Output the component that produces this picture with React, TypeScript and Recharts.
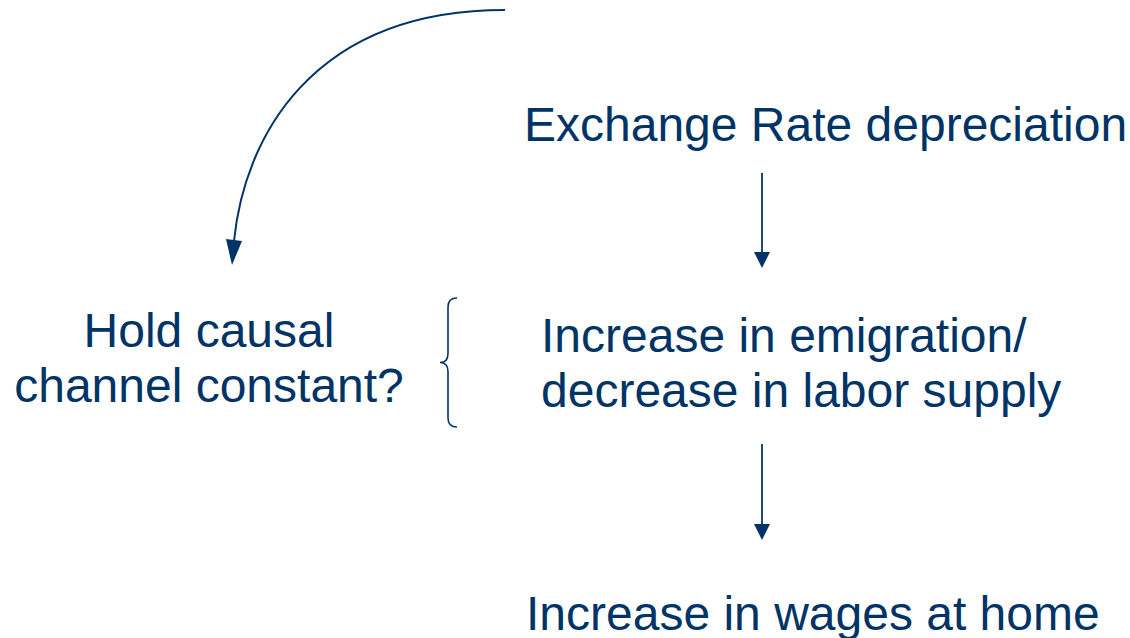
import React from 'react'
import {
  ComposedChart,
  Line,
  Scatter,
  XAxis,
  YAxis,
  ReferenceLine,
} from 'recharts'

const NAVY = '#003466'
const FONT = '"Liberation Sans", Arial, sans-serif'

/** diagram coordinates: x to the right, y downward (pixel-like units) */
const textX = [524, 209, 209, 541, 541, 526]
const textY = [141, 347, 402, 352, 407, 630]
const textLines = [
  'Exchange Rate depreciation',
  'Hold causal',
  'channel constant?',
  'Increase in emigration/',
  'decrease in labor supply',
  'Increase in wages at home',
]
const textAnchors = ['start', 'middle', 'middle', 'start', 'start', 'start']

// straight arrows: start and tip
const arrowX = [762, 762]
const arrowTop = [173, 444]
const arrowTip = [268, 540]

// curved arrow: start, two bezier handles, end (arrowhead base)
const arcX = [505, 310, 244, 234]
const arcY = [10, 10, 140, 241]

// brace spanning the emigration box
const braceX = [448]
const braceTop = [298]
const braceBottom = [427]

const textData = textLines.map((t, i) => ({
  x: textX[i],
  y: textY[i],
  text: t,
  anchor: textAnchors[i],
}))
const arcData = arcX.map((x, i) => ({ x, y: arcY[i] }))

/** d3-style curve factory: one cubic bezier through start/handles/end */
function bezierCurve(context: any) {
  let pts: number[][] = []
  return {
    areaStart() {},
    areaEnd() {},
    lineStart() {
      pts = []
    },
    point(x: number, y: number) {
      pts.push([x, y])
    },
    lineEnd() {
      if (pts.length < 4) return
      const [p0, p1, p2, p3] = pts
      context.moveTo(p0[0], p0[1])
      context.bezierCurveTo(p1[0], p1[1], p2[0], p2[1], p3[0], p3[1])
    },
  }
}

function TextShape(props: any) {
  const { cx, cy, payload } = props
  return (
    <text
      x={cx}
      y={cy}
      textAnchor={payload.anchor}
      fill={NAVY}
      fontFamily={FONT}
      fontSize={48}
    >
      {payload.text}
    </text>
  )
}

/** straight down arrow: line then filled head */
function ArrowShape(props: any) {
  const { x1, y1, x2, y2 } = props
  const head = 16
  return (
    <g>
      <line x1={x1} y1={y1} x2={x2} y2={y2 - head + 1} stroke={NAVY} strokeWidth={1.8} />
      <polygon
        points={`${x2 - 8},${y2 - head} ${x2 + 8},${y2 - head} ${x2},${y2}`}
        fill={NAVY}
      />
    </g>
  )
}

function BraceShape(props: any) {
  const { x1, y1, y2 } = props
  const x = x1
  const m = (y1 + y2) / 2
  const r = 9
  const d = [
    `M${x + r},${y1}`,
    `Q${x},${y1} ${x},${y1 + r}`,
    `L${x},${m - r}`,
    `Q${x},${m} ${x - 8},${m}`,
    `Q${x},${m} ${x},${m + r}`,
    `L${x},${y2 - r}`,
    `Q${x},${y2} ${x + r},${y2}`,
  ].join(' ')
  return <path d={d} fill="none" stroke={NAVY} strokeWidth={1.6} />
}

function ArcDot(props: any) {
  const { cx, cy, index } = props
  if (index !== arcData.length - 1) return <g key={`d${index}`} />
  return (
    <polygon
      key={`d${index}`}
      points={`${cx - 8},${cy - 2} ${cx + 8},${cy} ${cx - 2},${cy + 24}`}
      fill={NAVY}
    />
  )
}

export default function App() {
  return (
    <div style={{ position: 'absolute', left: 0, top: 0, width: 1130, height: 638, background: '#fff' }}>
      <ComposedChart width={1130} height={638} margin={{ top: 0, right: 0, bottom: 0, left: 0 }}>
        <XAxis type="number" dataKey="x" domain={[0, 1130]} hide allowDataOverflow />
        <YAxis type="number" dataKey="y" domain={[0, 638]} reversed hide allowDataOverflow />
        <Line
          data={arcData}
          dataKey="y"
          type={bezierCurve as any}
          stroke={NAVY}
          strokeWidth={2}
          dot={ArcDot}
          activeDot={false}
          isAnimationActive={false}
        />
        {arrowX.map((x, i) => (
          <ReferenceLine
            key={`a${i}`}
            segment={[{ x, y: arrowTop[i] }, { x, y: arrowTip[i] }]}
            shape={ArrowShape}
            ifOverflow="visible"
          />
        ))}
        {braceX.map((x, i) => (
          <ReferenceLine
            key={`b${i}`}
            segment={[{ x, y: braceTop[i] }, { x, y: braceBottom[i] }]}
            shape={BraceShape}
            ifOverflow="visible"
          />
        ))}
        <Scatter data={textData} dataKey="y" shape={TextShape} isAnimationActive={false} />
      </ComposedChart>
    </div>
  )
}
